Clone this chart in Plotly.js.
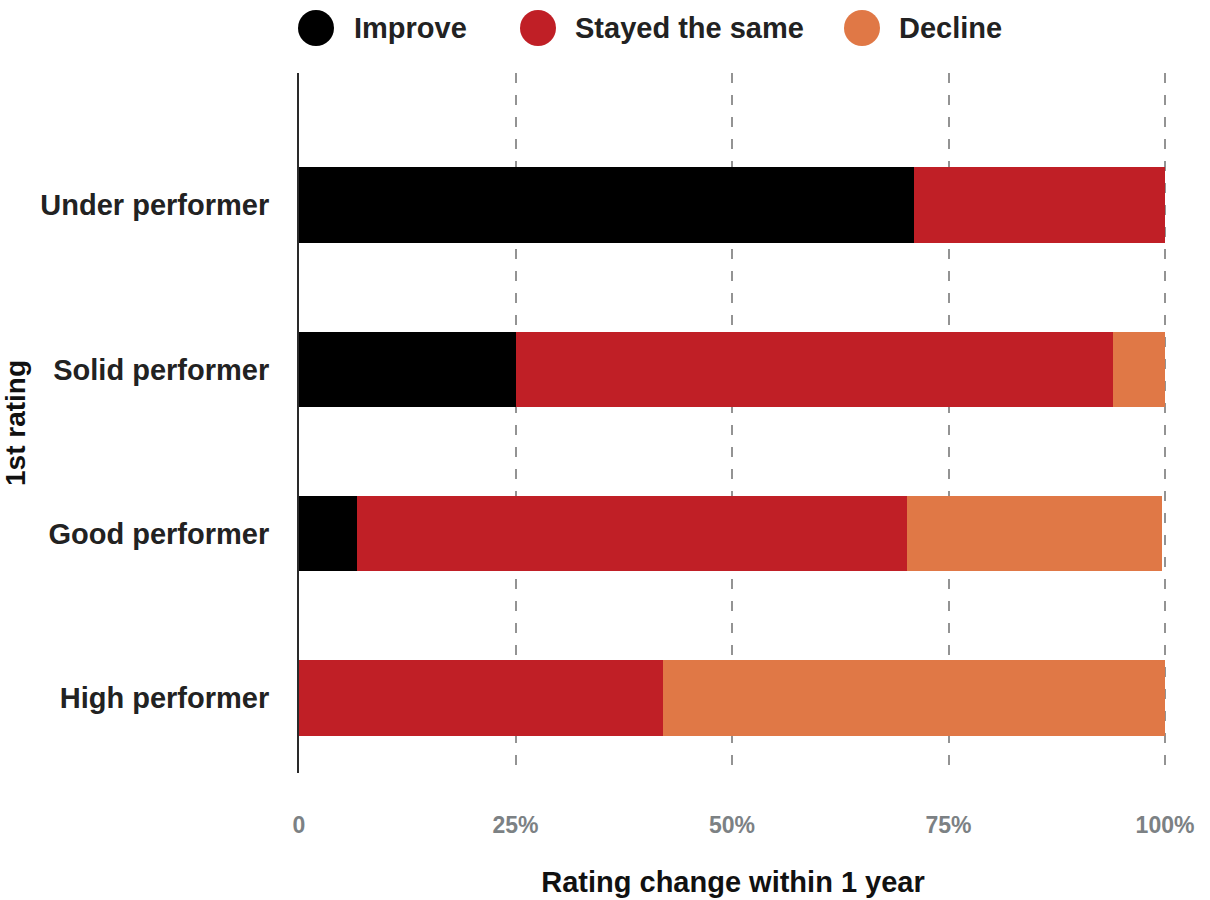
<!DOCTYPE html>
<html>
<head>
<meta charset="utf-8">
<script src="https://cdn.plot.ly/plotly-3.0.1.min.js"></script>
<style>html,body{margin:0;padding:0;background:#fff;}#chart{width:1210px;height:900px;}</style>
</head>
<body>
<div id="chart"></div>
<script>
const categories = ["High performer", "Good performer", "Solid performer", "Under performer"];
const improve = [0, 6.7, 25, 71];
const stayed = [42, 63.5, 69, 29];
const decline = [58, 29.5, 6, 0];
const seriesNames = ["Improve", "Stayed the same", "Decline"];
const seriesColors = ["#000000", "#c01f26", "#e07846"];
const xTickVals = [0, 25, 50, 75, 100];
const xTickText = ["0", "25%", "50%", "75%", "100%"];

const yPos = categories.map((c, i) => i);
const FONT = "Liberation Sans, Arial, sans-serif";

const series = [improve, stayed, decline];
const data = series.map((vals, k) => ({
  type: "bar",
  orientation: "h",
  name: seriesNames[k],
  x: vals,
  y: yPos,
  width: 0.46,
  marker: {color: seriesColors[k], line: {width: 0}},
  showlegend: false,
  hoverinfo: "x+name"
}));

// legend drawn as circles + text in paper coords
const plotL = 299, plotR = 1167, plotT = 73, plotB = 773;
const px2x = p => (p - plotL) / (plotR - plotL);
const px2y = p => (plotB - p) / (plotB - plotT);
const legendCircleX = [316, 538, 862];
const legendTextX = [352, 573, 897];
const legendY = 28;

const shapes = seriesNames.map((n, k) => ({
  type: "circle", xref: "paper", yref: "paper",
  xsizemode: "pixel", ysizemode: "pixel",
  xanchor: px2x(legendCircleX[k]), yanchor: px2y(legendY),
  x0: -18, x1: 18, y0: -18, y1: 18,
  fillcolor: seriesColors[k], line: {width: 0}
}));
const annotations = seriesNames.map((n, k) => ({
  xref: "paper", yref: "paper",
  x: px2x(legendTextX[k]), y: px2y(legendY),
  xanchor: "left", yanchor: "middle",
  text: n, showarrow: false,
  font: {family: FONT, size: 29, color: "#222222", weight: "bold"}
}));

const layout = {
  width: 1210, height: 900,
  margin: {l: plotL, r: 1210 - plotR, t: plotT, b: 900 - plotB},
  paper_bgcolor: "#ffffff", plot_bgcolor: "#ffffff",
  barmode: "stack",
  showlegend: false,
  xaxis: {
    range: [0, 100.23],
    tickvals: xTickVals, ticktext: xTickText,
    showgrid: true, gridcolor: "#939393", gridwidth: 2, griddash: "10px,12px",
    zeroline: false, showline: false, ticks: "",
    ticklabelstandoff: 36,
    tickfont: {family: FONT, size: 23, color: "#7c8184", weight: "bold"},
    title: {text: "Rating change within 1 year", standoff: 34,
            font: {family: FONT, size: 29, color: "#111111", weight: "bold"}},
    fixedrange: true
  },
  yaxis: {
    range: [-0.457, 3.805],
    tickvals: yPos, ticktext: categories,
    showgrid: false, zeroline: false,
    showline: true, linecolor: "#2a2a2a", linewidth: 2,
    ticks: "", ticklabelstandoff: 22,
    tickfont: {family: FONT, size: 29, color: "#222222", weight: "bold"},
    title: {text: "1st rating", standoff: 10,
            font: {family: FONT, size: 28, color: "#111111", weight: "bold"}},
    fixedrange: true
  },
  shapes: shapes,
  annotations: annotations
};

Plotly.newPlot("chart", data, layout, {displayModeBar: false, staticPlot: true});
</script>
</body>
</html>
